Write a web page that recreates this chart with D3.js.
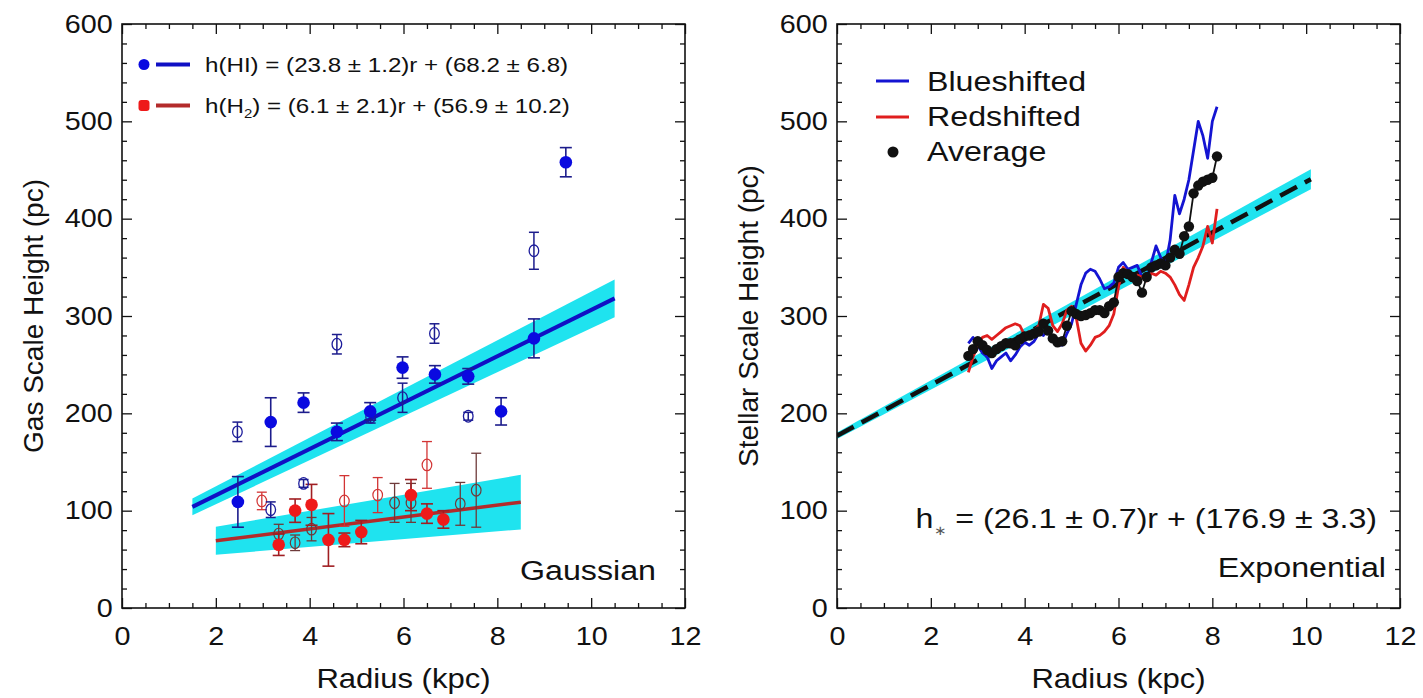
<!DOCTYPE html>
<html>
<head>
<meta charset="utf-8">
<script src="https://cdn.jsdelivr.net/npm/d3@7"></script>
<style>
  body { margin: 0; background: #fff; }
  svg text { font-family: "Liberation Sans", Arial, Helvetica, sans-serif; fill: #111; }
</style>
</head>
<body>
<svg id="fig" width="1423" height="698"></svg>
<script>
// ---------- shared axis ticks ----------
const xTicks = [0, 2, 4, 6, 8, 10, 12];
const yTicks = [0, 100, 200, 300, 400, 500, 600];

// ---------- left panel: gas scale height (Gaussian fits) ----------
const hiFilledR   = [2.47, 3.17, 3.87, 4.58, 5.29, 5.98, 6.67, 7.38, 8.08, 8.78, 9.46];
const hiFilledH   = [109, 191, 211, 181, 202, 247, 240, 238, 202, 277, 458];
const hiFilledErr = [26, 25, 10, 9, 9, 11, 9, 8, 14, 20, 15];

const hiOpenR   = [2.46, 3.17, 3.87, 4.58, 5.30, 5.98, 6.66, 7.38, 8.78];
const hiOpenH   = [181, 101, 128, 271, 196, 216, 282, 197, 367];
const hiOpenErr = [10, 8, 4, 10, 6, 15, 10, 4, 19];

const h2FilledR   = [3.34, 3.69, 4.04, 4.40, 4.74, 5.10, 6.16, 6.50, 6.85];
const h2FilledH   = [65, 100, 106, 70, 70, 78, 116, 97, 91];
const h2FilledErr = [11, 12, 21, 27, 7, 12, 16, 10, 9];

const h2OpenR   = [2.98, 4.74, 5.45, 6.50];
const h2OpenH   = [110, 110, 116, 147];
const h2OpenErr = [9, 26, 18, 24];

const h2DimR   = [3.34, 3.69, 4.04, 5.81, 6.16, 7.21, 7.55];
const h2DimH   = [76, 67, 81, 108, 108, 107, 121];
const h2DimErr = [10, 8, 12, 20, 20, 22, 38];

// linear fits: [slope, slope error, intercept, intercept error] and radial range
const hiFit = [23.8, 1.2, 68.2, 6.8];
const hiFitRange = [1.5, 10.5];
const h2Fit = [6.1, 2.1, 56.9, 10.2];
const h2FitRange = [2.0, 8.5];

// ---------- right panel: stellar scale height (exponential fits) ----------
const radiusGrid = [2.8, 2.9, 3.0, 3.1, 3.2, 3.3, 3.4, 3.5, 3.6, 3.7, 3.8, 3.9,
  4.0, 4.1, 4.2, 4.3, 4.4, 4.5, 4.6, 4.7, 4.8, 4.9, 5.0, 5.1, 5.2, 5.3, 5.4, 5.5,
  5.6, 5.7, 5.8, 5.9, 6.0, 6.1, 6.2, 6.3, 6.4, 6.5, 6.6, 6.7, 6.8, 6.9, 7.0, 7.1,
  7.2, 7.3, 7.4, 7.5, 7.6, 7.7, 7.8, 7.9, 8.0, 8.1];
const blueshifted = [272, 278, 270, 262, 258, 246, 254, 258, 262, 254, 260, 268,
  273, 270, 274, 282, 280, 286, 278, 270, 270, 282, 292, 312, 332, 344, 348, 346,
  338, 328, 330, 334, 350, 355, 348, 350, 352, 340, 338, 355, 372, 360, 352, 378,
  424, 405, 420, 440, 470, 500, 485, 462, 500, 515];
const redshifted = [242, 258, 270, 278, 280, 276, 280, 284, 288, 290, 292, 290,
  280, 284, 284, 290, 312, 308, 290, 284, 292, 306, 310, 298, 272, 264, 270, 278,
  280, 284, 290, 302, 330, 350, 344, 340, 342, 340, 336, 344, 342, 346, 344, 340,
  332, 322, 316, 332, 350, 360, 372, 392, 375, 410];
const average = [259, 266, 274, 270, 265, 262, 266, 269, 272, 272, 270, 276,
  279, 280, 282, 284, 292, 285, 277, 273, 274, 290, 305, 302, 300, 301, 303, 306,
  306, 303, 310, 314, 340, 344, 343, 340, 336, 324, 340, 350, 352, 354, 352, 360,
  368, 364, 382, 392, 426, 434, 438, 440, 442, 464];

const starFit = [26.1, 0.7, 176.9, 3.3];
const starFitRange = [0, 10.1];

// ---------- drawing helpers ----------
const svg = d3.select('#fig');
const SX = 1.15;            // horizontal stretch of the lettering
const CYAN = '#1fe3ef';

function txt(parent, x, y, size, anchor) {
  return parent.append('text')
    .attr('transform', `translate(${x},${y}) scale(${SX},1)`)
    .attr('font-size', size)
    .attr('text-anchor', anchor);
}

function makePanel(x0, x1) {
  const x = d3.scaleLinear().domain([0, 12]).range([x0, x1]);
  const y = d3.scaleLinear().domain([0, 600]).range([608, 24]);
  const g = svg.append('g');
  const clipId = 'clip' + x0;
  g.append('clipPath').attr('id', clipId).append('rect')
    .attr('x', x0).attr('y', 24).attr('width', x1 - x0).attr('height', 584);
  const plot = g.append('g').attr('clip-path', `url(#${clipId})`);
  return { g, plot, x, y, x0, x1 };
}

function drawAxes(p, yTitle) {
  const { g, x, y, x0, x1 } = p;
  const xMinor = d3.range(0, 12.01, 0.5).filter(v => v % 2 !== 0);
  const yMinor = d3.range(0, 601, 20).filter(v => v % 100 !== 0);
  const ax = g.append('g');

  const styleAxis = sel => {
    sel.select('.domain').remove();
    sel.selectAll('.tick line').attr('stroke', '#111').attr('stroke-width', 1.3);
    sel.attr('font-size', 25).attr('font-family', '"Liberation Sans", Arial, sans-serif');
  };

  // labelled major ticks (bottom, left)
  ax.append('g').attr('transform', `translate(0,${y(0)})`)
    .call(d3.axisBottom(x).tickValues(xTicks).tickSize(-10).tickSizeOuter(0)
      .tickPadding(19).tickFormat(d3.format('d')))
    .call(styleAxis)
    .selectAll('text').attr('transform', `scale(${SX},1)`).attr('fill', '#111');
  ax.append('g').attr('transform', `translate(${x0},0)`)
    .call(d3.axisLeft(y).tickValues(yTicks).tickSize(-10).tickSizeOuter(0)
      .tickPadding(8).tickFormat(d3.format('d')))
    .call(styleAxis)
    .selectAll('text').attr('transform', `scale(${SX},1)`).attr('fill', '#111');

  // unlabelled mirrored major ticks (top, right)
  ax.append('g').attr('transform', `translate(0,${y(600)})`)
    .call(d3.axisTop(x).tickValues(xTicks).tickSize(-10).tickSizeOuter(0).tickFormat(''))
    .call(styleAxis);
  ax.append('g').attr('transform', `translate(${x1},0)`)
    .call(d3.axisRight(y).tickValues(yTicks).tickSize(-10).tickSizeOuter(0).tickFormat(''))
    .call(styleAxis);

  // minor ticks on all four sides
  ax.append('g').attr('transform', `translate(0,${y(0)})`)
    .call(d3.axisBottom(x).tickValues(xMinor).tickSize(-5).tickSizeOuter(0).tickFormat(''))
    .call(styleAxis);
  ax.append('g').attr('transform', `translate(0,${y(600)})`)
    .call(d3.axisTop(x).tickValues(xMinor).tickSize(-5).tickSizeOuter(0).tickFormat(''))
    .call(styleAxis);
  ax.append('g').attr('transform', `translate(${x0},0)`)
    .call(d3.axisLeft(y).tickValues(yMinor).tickSize(-5).tickSizeOuter(0).tickFormat(''))
    .call(styleAxis);
  ax.append('g').attr('transform', `translate(${x1},0)`)
    .call(d3.axisRight(y).tickValues(yMinor).tickSize(-5).tickSizeOuter(0).tickFormat(''))
    .call(styleAxis);

  // frame
  g.append('rect').attr('x', x0).attr('y', y(600)).attr('width', x1 - x0)
    .attr('height', y(0) - y(600)).attr('fill', 'none')
    .attr('stroke', '#111').attr('stroke-width', 1.6);

  // axis titles
  txt(g, (x0 + x1) / 2, 688, 27, 'middle').text('Radius (kpc)');
  g.append('text')
    .attr('transform', `translate(${x0 - 79},${(y(0) + y(600)) / 2}) rotate(-90)`)
    .attr('font-size', 28).attr('text-anchor', 'middle').text(yTitle);
}

// fit band: envelope of the (slope ± err, intercept ± err) lines
function fitBand(p, fit, range, color) {
  const [s, ds, b, db] = fit;
  const area = d3.area()
    .x(r => p.x(r))
    .y0(r => p.y((s - ds) * r + (b - db)))
    .y1(r => p.y((s + ds) * r + (b + db)));
  p.plot.append('path').attr('d', area(range)).attr('fill', color);
}

function fitLine(p, fit, range) {
  const [s, , b] = fit;
  return p.plot.append('path')
    .attr('d', d3.line().x(r => p.x(r)).y(r => p.y(s * r + b))(range))
    .attr('fill', 'none');
}

function errorBars(p, rs, hs, es, color, width, cap) {
  const d = rs.map((r, i) => ({ r, h: hs[i], e: es[i] }));
  const g = p.plot.append('g').attr('stroke', color).attr('stroke-width', width);
  g.selectAll('.v').data(d).enter().append('line')
    .attr('x1', q => p.x(q.r)).attr('x2', q => p.x(q.r))
    .attr('y1', q => p.y(q.h - q.e)).attr('y2', q => p.y(q.h + q.e));
  [-1, 1].forEach(sg => {
    g.selectAll('.c' + sg).data(d).enter().append('line')
      .attr('x1', q => p.x(q.r) - cap).attr('x2', q => p.x(q.r) + cap)
      .attr('y1', q => p.y(q.h + sg * q.e)).attr('y2', q => p.y(q.h + sg * q.e));
  });
}

function filledMarks(p, rs, hs, color, rad) {
  p.plot.append('g').selectAll('circle').data(rs.map((r, i) => [r, hs[i]])).enter()
    .append('circle').attr('cx', q => p.x(q[0])).attr('cy', q => p.y(q[1]))
    .attr('r', rad).attr('fill', color);
}

function openMarks(p, rs, hs, color, width) {
  p.plot.append('g').selectAll('ellipse').data(rs.map((r, i) => [r, hs[i]])).enter()
    .append('ellipse').attr('cx', q => p.x(q[0])).attr('cy', q => p.y(q[1]))
    .attr('rx', 4.8).attr('ry', 5.8).attr('fill', 'none')
    .attr('stroke', color).attr('stroke-width', width);
}

// ================= left panel =================
const L = makePanel(122, 685);

fitBand(L, hiFit, hiFitRange, CYAN);
fitBand(L, h2Fit, h2FitRange, CYAN);
fitLine(L, hiFit, hiFitRange).attr('stroke', '#1010c4').attr('stroke-width', 4);
fitLine(L, h2Fit, h2FitRange).attr('stroke', '#b32b2b').attr('stroke-width', 3.5);

errorBars(L, h2DimR, h2DimH, h2DimErr, '#6e3a3a', 1.3, 5);
openMarks(L, h2DimR, h2DimH, '#6e3a3a', 1.2);
errorBars(L, h2OpenR, h2OpenH, h2OpenErr, '#d23434', 1.3, 5);
openMarks(L, h2OpenR, h2OpenH, '#d23434', 1.2);
errorBars(L, h2FilledR, h2FilledH, h2FilledErr, '#a01e22', 1.6, 6);
filledMarks(L, h2FilledR, h2FilledH, '#ee1a1a', 6.3);

errorBars(L, hiOpenR, hiOpenH, hiOpenErr, '#1c1c8c', 1.5, 5);
openMarks(L, hiOpenR, hiOpenH, '#1c1c9c', 1.3);
errorBars(L, hiFilledR, hiFilledH, hiFilledErr, '#1c1c8c', 1.6, 6);
filledMarks(L, hiFilledR, hiFilledH, '#0a0ae0', 6.3);

drawAxes(L, 'Gas Scale Height (pc)');

// legend with fit equations
L.g.append('circle').attr('cx', 144).attr('cy', 64.5).attr('r', 5.5).attr('fill', '#0a0ae0');
L.g.append('line').attr('x1', 156).attr('x2', 190).attr('y1', 64.5).attr('y2', 64.5)
  .attr('stroke', '#1010c4').attr('stroke-width', 4);
txt(L.g, 205, 72, 21, 'start').text('h(HI) = (23.8 ± 1.2)r + (68.2 ± 6.8)');

L.g.append('rect').attr('x', 138.5).attr('y', 100).attr('width', 11).attr('height', 11)
  .attr('rx', 3).attr('fill', '#ee1a1a');
L.g.append('line').attr('x1', 156).attr('x2', 190).attr('y1', 105.5).attr('y2', 105.5)
  .attr('stroke', '#b32b2b').attr('stroke-width', 4);
const h2Label = txt(L.g, 205, 113, 21, 'start');
h2Label.append('tspan').text('h(H');
h2Label.append('tspan').attr('font-size', 13).attr('dy', 5).text('2');
h2Label.append('tspan').attr('dy', -5).text(') = (6.1 ± 2.1)r + (56.9 ± 10.2)');

txt(L.g, 656, 580, 28, 'end').text('Gaussian');

// ================= right panel =================
const R = makePanel(837, 1400);

fitBand(R, starFit, starFitRange, CYAN);
fitLine(R, starFit, starFitRange).attr('stroke', '#111').attr('stroke-width', 4.5)
  .attr('stroke-dasharray', '19,9');

const profile = d3.line().x(d => R.x(d[0])).y(d => R.y(d[1]));
R.plot.append('path').attr('d', profile(radiusGrid.map((r, i) => [r, blueshifted[i]])))
  .attr('fill', 'none').attr('stroke', '#1414d2').attr('stroke-width', 2.8)
  .attr('stroke-linejoin', 'round');
R.plot.append('path').attr('d', profile(radiusGrid.map((r, i) => [r, redshifted[i]])))
  .attr('fill', 'none').attr('stroke', '#e01e1e').attr('stroke-width', 2.8)
  .attr('stroke-linejoin', 'round');
R.plot.append('path').attr('d', profile(radiusGrid.map((r, i) => [r, average[i]])))
  .attr('fill', 'none').attr('stroke', '#111').attr('stroke-width', 1.8);
R.plot.append('g').selectAll('circle').data(radiusGrid.map((r, i) => [r, average[i]]))
  .enter().append('circle').attr('cx', d => R.x(d[0])).attr('cy', d => R.y(d[1]))
  .attr('r', 5.2).attr('fill', '#111');

drawAxes(R, 'Stellar Scale Height (pc)');

// legend
R.g.append('line').attr('x1', 876).attr('x2', 909).attr('y1', 81).attr('y2', 81)
  .attr('stroke', '#1414d2').attr('stroke-width', 3);
txt(R.g, 927, 91, 28, 'start').text('Blueshifted');
R.g.append('line').attr('x1', 876).attr('x2', 909).attr('y1', 117).attr('y2', 117)
  .attr('stroke', '#e01e1e').attr('stroke-width', 3);
txt(R.g, 927, 126, 28, 'start').text('Redshifted');
R.g.append('circle').attr('cx', 893).attr('cy', 152).attr('r', 5.5).attr('fill', '#111');
txt(R.g, 927, 161, 28, 'start').text('Average');

const starLabel = txt(R.g, 1377, 528, 28, 'end');
starLabel.append('tspan').text('h');
starLabel.append('tspan').attr('font-size', 13).attr('dy', 7).attr('fill', '#555').text('∗');
starLabel.append('tspan').attr('dy', -7).text(' = (26.1 ± 0.7)r + (176.9 ± 3.3)');

txt(R.g, 1386, 577, 28, 'end').text('Exponential');
</script>
</body>
</html>
